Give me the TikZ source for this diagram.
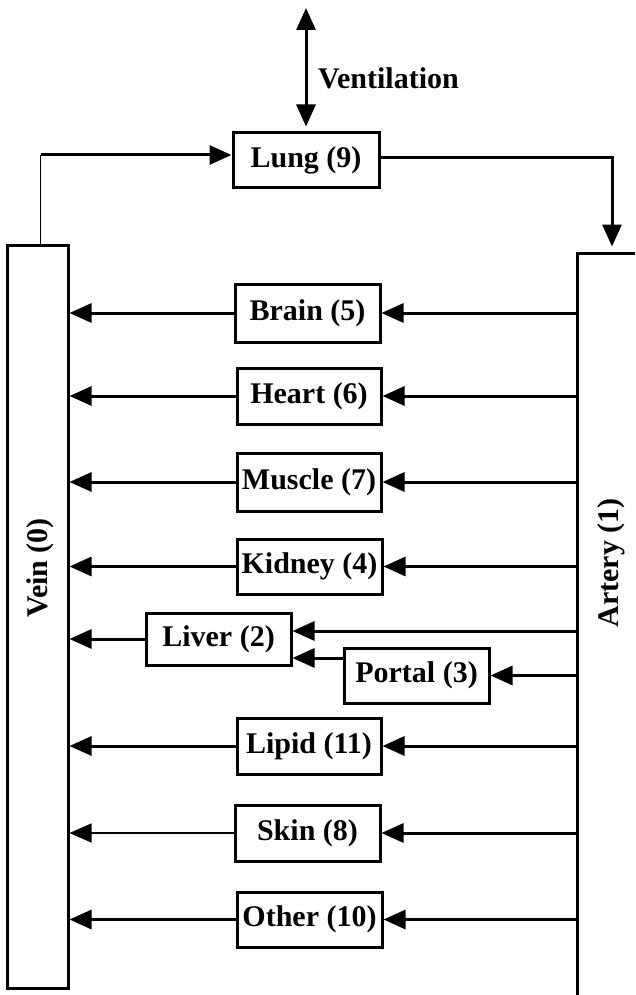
\documentclass[tikz,border=0pt]{standalone}
\usepackage{fontspec}
\setmainfont{Liberation Serif}
\usetikzlibrary{arrows.meta,calc}
\begin{document}
\begin{tikzpicture}[x=1pt,y=-1pt,
  lab/.style={font=\bfseries\fontsize{30}{34}\selectfont, inner sep=0pt},
  organ/.style={draw, line width=3pt, minimum width=145pt, minimum height=56pt, inner sep=0pt, lab},
  vessel/.style={draw, line width=3pt, inner sep=0pt},
  tip/.tip={Triangle[length=22pt,width=19pt]},
  flow/.style={line width=3pt, -tip},
  thinflow/.style={line width=1.5pt, -tip},
  vent/.style={line width=3pt, tip-tip}]
\useasboundingbox (0,0) rectangle (635,995);
\clip (0,0) rectangle (635,995);
% vessels
\node[vessel, minimum width=61pt, minimum height=743pt] (vein) at (37.5,616.5) {};
\node[vessel, minimum width=140pt, minimum height=900pt] (artery) at (647,703) {};
\node[lab, rotate=90] (veinlabel) at (40,568) {Vein (0)};
\node[lab, rotate=90] (arterylabel) at (611,563) {Artery (1)};
% organs
\node[organ, minimum width=146pt, minimum height=55pt] (lung) at (306,160.5) {Lung (9)};
\node[organ, minimum height=58pt] (brain) at (307.5,313) {Brain (5)};
\node[organ, minimum width=144pt] (heart) at (309,396) {Heart (6)};
\node[organ, minimum width=144pt, minimum height=58pt] (muscle) at (309,482) {Muscle (7)};
\node[organ, minimum height=55pt] (kidney) at (309.5,566.5) {Kidney (4)};
\node[organ, minimum height=52pt] (liver) at (218.5,639) {Liver (2)};
\node[organ, minimum height=55pt] (portal) at (416.5,675.5) {Portal (3)};
\node[organ, minimum width=144pt] (lipid) at (309,746) {Lipid (11)};
\node[organ] (skin) at (307.5,833) {Skin (8)};
\node[organ, minimum height=55pt] (other) at (309.5,919.5) {Other (10)};
% ventilation
\coordinate (vtop) at (306,8);
\draw[vent] (vtop) -- ($(lung.north)+(0,-5)$);
\node[lab, anchor=west] (ventlabel) at (318,78) {Ventilation};
% vein -> lung -> artery
\coordinate (c1) at (40.5,155);
\draw[line width=1.5pt] ([xshift=3pt]vein.north) -- (c1);
\draw[flow] (c1) -- (lung.west |- c1);
\coordinate (c2) at (612,158);
\draw[flow] (lung.east |- c2) -- (c2) -- ($(c2 |- artery.north)+(0,-5)$);
% artery -> organs -> vein
\foreach \o in {brain,heart,muscle,kidney,lipid,other}{
  \draw[flow] (artery.west |- \o.east) -- (\o.east);
  \draw[flow] (\o.west) -- (vein.east |- \o.west);
}
\draw[flow] (artery.west |- skin.east) -- (skin.east);
\draw[thinflow] (skin.west) -- (vein.east |- skin.west);
% liver and portal
\path ($(liver.east)+(0,-8)$) coordinate (la);
\draw[flow] (artery.west |- la) -- (la);
\path ($(liver.east)+(0,19)$) coordinate (lp);
\draw[flow] (portal.west |- lp) -- (lp);
\draw[flow] (artery.west |- portal.east) -- (portal.east);
\draw[flow] (liver.west) -- (vein.east |- liver.west);
\end{tikzpicture}
\end{document}
